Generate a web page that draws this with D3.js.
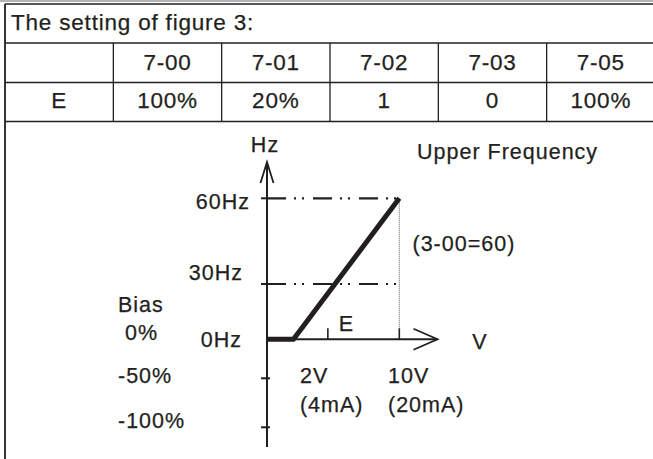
<!DOCTYPE html>
<html>
<head>
<meta charset="utf-8">
<script src="https://cdn.jsdelivr.net/npm/d3@7/dist/d3.min.js"></script>
<style>
  html, body { margin: 0; padding: 0; background: #fff; }
  svg { display: block; }
  text { font-family: "Liberation Sans", Arial, Helvetica, sans-serif; fill: #231f20; stroke: #231f20; stroke-width: 0.25px; }
</style>
</head>
<body>
<svg id="fig" width="653" height="459"></svg>
<script>
// Settings table
const title = "The setting of figure 3:";
const paramCodes = ["", "7-00", "7-01", "7-02", "7-03", "7-05"];
const settingValues = ["E", "100%", "20%", "1", "0", "100%"];

// Frequency axis (Hz) and bias axis (%)
const hzTicks = [60, 30, 0];
const hzLabels = ["60Hz", "30Hz", "0Hz"];
const biasTicks = [0, -50, -100];
const biasLabels = ["0%", "-50%", "-100%"];

// Input axis (V) ticks and labels
const voltTicks = [2, 10];
const voltLabels = ["2V", "10V"];
const currentLabels = ["(4mA)", "(20mA)"];
const eMarkV = 4.6;

// Output curve: input voltage -> output frequency
const curveV = [0, 2, 10];
const curveHz = [0, 0, 60];

const ink = "#231f20";
const svg = d3.select("#fig");

// ---------- table ----------
const col = d3.scaleBand().domain(d3.range(paramCodes.length)).range([5, 655]);
const rowY = [4, 43, 82.5, 121.5];

svg.append("line").attr("x1", 0).attr("x2", 653).attr("y1", 1).attr("y2", 1)
  .attr("stroke", "#9a9a9a").attr("stroke-width", 1.6);
svg.append("line").attr("x1", 5).attr("x2", 653).attr("y1", 4).attr("y2", 4)
  .attr("stroke", ink).attr("stroke-width", 1.6);
svg.append("line").attr("x1", 5).attr("x2", 5).attr("y1", 4).attr("y2", 459)
  .attr("stroke", ink).attr("stroke-width", 1.8);
[rowY[1], rowY[2], rowY[3]].forEach(y => {
  svg.append("line").attr("x1", 5).attr("x2", 653).attr("y1", y).attr("y2", y)
    .attr("stroke", ink).attr("stroke-width", 1.3);
});
d3.range(1, paramCodes.length).forEach(i => {
  svg.append("line").attr("x1", col(i)).attr("x2", col(i))
    .attr("y1", rowY[1]).attr("y2", rowY[3])
    .attr("stroke", ink).attr("stroke-width", 1.3);
});

const tableSize = "22.5px", tableSpacing = "0.8px";
svg.append("text").attr("x", 11).attr("y", 30).text(title)
  .attr("font-size", tableSize).attr("letter-spacing", tableSpacing);
svg.selectAll("text.code").data(paramCodes).join("text").attr("class", "code")
  .attr("x", (d, i) => col(i) + col.bandwidth() / 2).attr("y", 70)
  .attr("text-anchor", "middle")
  .attr("font-size", tableSize).attr("letter-spacing", tableSpacing)
  .text(d => d);
svg.selectAll("text.val").data(settingValues).join("text").attr("class", "val")
  .attr("x", (d, i) => col(i) + col.bandwidth() / 2).attr("y", 108)
  .attr("text-anchor", "middle")
  .attr("font-size", tableSize).attr("letter-spacing", tableSpacing)
  .text(d => d);

// ---------- graph ----------
const x = d3.scaleLinear().domain([0, 10]).range([267, 399.3]);
const yHz = d3.scaleLinear().domain([0, 30, 60]).range([339.3, 284, 198.3]);
const yBias = d3.scaleLinear().domain([0, -50, -100]).range([339.3, 378.3, 427.3]);

const g = svg.append("g");
const labelSize = "21.5px";
const labelSpacing = "1px";

// vertical axis with arrow
const ax0 = x(0), ay0 = yHz(0);
g.append("line").attr("x1", ax0).attr("x2", ax0).attr("y1", 447).attr("y2", 162)
  .attr("stroke", ink).attr("stroke-width", 2);
g.append("path").attr("d", `M${ax0 - 6.5},183 L${ax0},162 L${ax0 + 6.5},183`)
  .attr("fill", "none").attr("stroke", ink).attr("stroke-width", 1.8);

// horizontal axis with arrow
const xEnd = 437.5;
g.append("line").attr("x1", ax0).attr("x2", xEnd).attr("y1", ay0).attr("y2", ay0)
  .attr("stroke", ink).attr("stroke-width", 2);
g.append("path").attr("d", `M${xEnd - 24},${ay0 - 10.5} L${xEnd},${ay0} L${xEnd - 24},${ay0 + 10.5}`)
  .attr("fill", "none").attr("stroke", ink).attr("stroke-width", 1.8);

// Hz ticks with dash-dot guide lines
hzTicks.filter(d => d > 0).forEach(d => {
  g.append("line").attr("x1", ax0 - 6).attr("x2", ax0).attr("y1", yHz(d)).attr("y2", yHz(d))
    .attr("stroke", ink).attr("stroke-width", 2);
  g.append("line").attr("x1", ax0).attr("x2", x(10)).attr("y1", yHz(d)).attr("y2", yHz(d))
    .attr("stroke", ink).attr("stroke-width", 2.2)
    .attr("stroke-dasharray", "19,8,2,6,2,9");
});

// bias ticks below the origin
biasTicks.filter(d => d < 0).forEach(d => {
  g.append("line").attr("x1", ax0 - 6).attr("x2", ax0 + 3).attr("y1", yBias(d)).attr("y2", yBias(d))
    .attr("stroke", ink).attr("stroke-width", 2);
});

// V ticks on the input axis
[eMarkV, voltTicks[1]].forEach(v => {
  g.append("line").attr("x1", x(v)).attr("x2", x(v)).attr("y1", ay0).attr("y2", ay0 - 11)
    .attr("stroke", ink).attr("stroke-width", 1.6);
});

// dotted drop line from full-scale point
g.append("line").attr("x1", x(10)).attr("x2", x(10)).attr("y1", yHz(60)).attr("y2", ay0 - 9)
  .attr("stroke", "#555").attr("stroke-width", 1).attr("stroke-dasharray", "1,1");

// output curve
const curve = curveV.map((v, i) => [v, curveHz[i]]);
g.append("path")
  .attr("d", d3.line().x(d => x(d[0])).y(d => yHz(d[1]))(curve))
  .attr("fill", "none").attr("stroke", ink).attr("stroke-width", 5)
  .attr("stroke-linejoin", "miter");

// labels
function label(t, px, py, anchor) {
  return g.append("text").attr("x", px).attr("y", py).attr("text-anchor", anchor || "start")
    .attr("font-size", labelSize).attr("letter-spacing", labelSpacing).text(t);
}
label("Hz", ax0 - 2, 151.5, "middle");
label("Upper Frequency", 417, 158.5);
label("(3-00=60)", 412.5, 251);
label("V", 480, 349, "middle");
label("E", x(eMarkV) + 11, 331);

const hzLabelPos = [[250, 11], [243, -4], [242, 7.5]];
hzLabels.forEach((t, i) => label(t, hzLabelPos[i][0], yHz(hzTicks[i]) + hzLabelPos[i][1], "end"));

label("Bias", 118, 311.5);
const biasLabelPos = [[125, 1], [118, 4.5], [118, 1]];
biasLabels.forEach((t, i) => label(t, biasLabelPos[i][0], yBias(biasTicks[i]) + biasLabelPos[i][1]));

const voltDx = [6.5, -11.3];
voltLabels.forEach((t, i) => {
  label(t, x(voltTicks[i]) + voltDx[i], 383);
  label(currentLabels[i], x(voltTicks[i]) + voltDx[i], 411.5);
});
</script>
</body>
</html>
